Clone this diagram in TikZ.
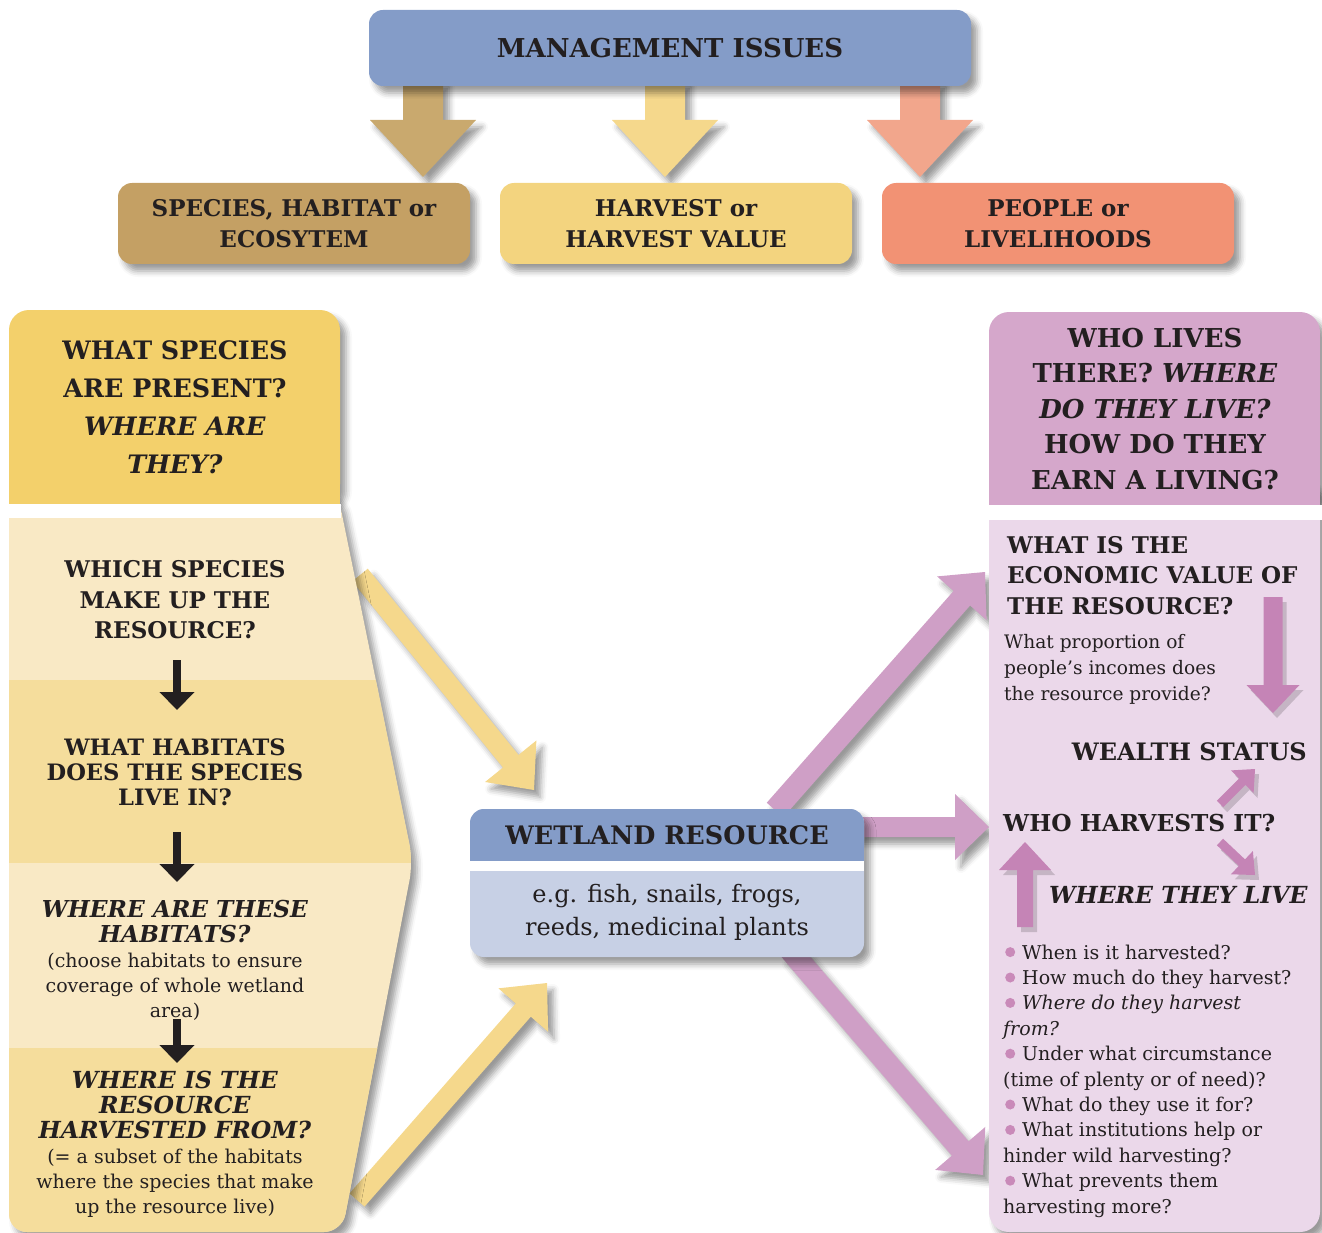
\documentclass[tikz,border=0pt]{standalone}
\usepackage{fontspec}
\setmainfont{DejaVu Serif}
\usetikzlibrary{calc,positioning,arrows.meta,shadows.blur}

\definecolor{ink}{HTML}{231F20}
\definecolor{mgblue}{HTML}{849CC8}
\definecolor{tanbox}{HTML}{C4A064}
\definecolor{tanarr}{HTML}{C9A96E}
\definecolor{yelbox}{HTML}{F3D47F}
\definecolor{yelarr}{HTML}{F5D88C}
\definecolor{salbox}{HTML}{F29274}
\definecolor{salarr}{HTML}{F2A68C}
\definecolor{lefttop}{HTML}{F3D06B}
\definecolor{bandlt}{HTML}{F9E9C5}
\definecolor{banddk}{HTML}{F5DD9C}
\definecolor{wetbody}{HTML}{C7D0E5}
\definecolor{pinktop}{HTML}{D5A7CB}
\definecolor{pinklt}{HTML}{EBD8EA}
\definecolor{pinkarr}{HTML}{CF9FC6}
\definecolor{pinkdk}{HTML}{C584B6}
\definecolor{bulpink}{HTML}{C98AB9}

\newcommand\hfs[2]{\fontsize{#1}{#2}\selectfont\bfseries}
\newcommand\rfs[2]{\fontsize{#1}{#2}\selectfont\mdseries}
\newcommand\bul{\hspace*{2pt}\raisebox{2pt}{\tikz\fill[bulpink] (0,0) circle (5pt);}\hspace{7pt}}

\newcommand\fatarrow[6]{%
  \path (#3) coordinate (fa-t) ($(#3)!#6!(#2)$) coordinate (fa-b);
  \fill[#1] ($(#2)!#4!90:(#3)$) -- ($(fa-b)!#4!90:(fa-t)$) -- ($(fa-b)!#5!90:(fa-t)$)
    -- (fa-t) -- ($(fa-b)!#5!-90:(fa-t)$) -- ($(fa-b)!#4!-90:(fa-t)$)
    -- ($(#2)!#4!-90:(#3)$) -- cycle;}

\begin{document}
\begin{tikzpicture}[x=1pt,y=-1pt,
  shd/.style={blur shadow={shadow xshift=6pt,shadow yshift=-7pt,shadow blur radius=6pt,shadow opacity=40}},
  flatshd/.style={fill=black,opacity=.16,transform canvas={shift={(4pt,-5pt)}}},
  issue/.style={rounded corners=14pt,minimum width=352pt,minimum height=81pt,inner sep=0pt,
    align=center,text=ink,font=\hfs{23}{31},shd},
  qtext/.style={align=center,text=ink,inner sep=0pt},
  ltext/.style={align=left,text=ink,inner sep=0pt,anchor=west},
  blk/.style={line width=8pt,ink,-{Triangle[width=34pt,length=18pt]}}]
\useasboundingbox (0,0) rectangle (1322,1233);

% management issues
\coordinate (m1) at (423,80); \coordinate (s1) at (423,177);
\coordinate (m2) at (665,80); \coordinate (s2) at (665,177);
\coordinate (m3) at (920,80); \coordinate (s3) at (920,177);
\fatarrow{fill=tanarr,shd}{m1}{s1}{20pt}{53pt}{57pt}
\fatarrow{fill=yelarr,shd}{m2}{s2}{20pt}{53pt}{57pt}
\fatarrow{fill=salarr,shd}{m3}{s3}{20pt}{53pt}{57pt}
\node[issue,fill=mgblue,minimum width=602pt,minimum height=76pt,font=\hfs{26}{30}] (mgmt) at (670,48) {MANAGEMENT ISSUES};
\node[issue,fill=tanbox] (spec) at (294,223.5) {SPECIES, HABITAT or\\ECOSYTEM};
\node[issue,fill=yelbox] (harv) at (676,223.5) {HARVEST or\\HARVEST VALUE};
\node[issue,fill=salbox] (peop) at (1058,223.5) {PEOPLE or\\LIVELIHOODS};

% species column
\coordinate (y1s) at (360,575); \coordinate (y1t) at (534,790);
\coordinate (y2s) at (357,1200); \coordinate (y2t) at (547,983);
\fatarrow{fill=yelarr,shd}{y1s}{y1t}{10pt}{33pt}{37pt}
\fatarrow{fill=yelarr,shd}{y2s}{y2t}{10pt}{33pt}{36pt}
\fill[bandlt,shd,rounded corners=18pt] (9,490) -- (337,490) -- (413,862) -- (342,1232) -- (9,1232) -- cycle;
\begin{scope}
\clip[rounded corners=18pt] (9,490) -- (337,490) -- (413,862) -- (342,1232) -- (9,1232) -- cycle;
\fill[banddk] (0,680) rectangle (420,863);
\fill[banddk] (0,1048) rectangle (420,1240);
\end{scope}
\fill[lefttop,shd,rounded corners=20pt] (9,310) rectangle (340,504);
\fill[white] (0,504) rectangle (341,518);
\fill[lefttop] (9,470) rectangle (340,504);

% wetland resource
\coordinate (p1s) at (775,810); \coordinate (p1t) at (985,572);
\coordinate (p2s) at (855,827); \coordinate (p2t) at (989,827);
\coordinate (p3s) at (790,950); \coordinate (p3t) at (983,1175);
\fatarrow{fill=pinkarr,shd}{p1s}{p1t}{11pt}{33pt}{35pt}
\fatarrow{fill=pinkarr,shd}{p2s}{p2t}{10pt}{33pt}{34pt}
\fatarrow{fill=pinkarr,shd}{p3s}{p3t}{11pt}{33pt}{35pt}
\fill[wetbody,shd,rounded corners=14pt] (470,809) rectangle (864,957);
\fill[mgblue,rounded corners=14pt] (470,809) rectangle (864,861);
\fill[mgblue] (470,835) rectangle (864,861);
\fill[white] (470,861) rectangle (864,871);
\node[qtext,font=\hfs{25.5}{30}] (wet) at (667,835) {WETLAND RESOURCE};
\node[qtext,font=\rfs{24}{33}] (eg) at (667,912) {e.g. fish, snails, frogs,\\reeds, medicinal plants};

% people column
\fill[pinklt,shd,rounded corners=20pt] (989,480) rectangle (1320,1232);
\fill[pinktop,shd,rounded corners=20pt] (989,312) rectangle (1320,505);
\fill[white] (989,505) rectangle (1322,520);
\fill[pinktop] (989,470) rectangle (1320,505);
\coordinate (d1s) at (1273,597); \coordinate (d1t) at (1273,713);
\coordinate (u1s) at (1025,927); \coordinate (u1t) at (1025,842);
\coordinate (w1s) at (1220,804); \coordinate (w1t) at (1255,769);
\coordinate (w2s) at (1220,842); \coordinate (w2t) at (1255,875);
\fatarrow{flatshd}{d1s}{d1t}{9.5pt}{26.5pt}{28pt}
\fatarrow{flatshd}{u1s}{u1t}{8pt}{26pt}{28pt}
\fatarrow{flatshd}{w1s}{w1t}{4.5pt}{16pt}{18pt}
\fatarrow{flatshd}{w2s}{w2t}{4.5pt}{16pt}{18pt}
\fatarrow{fill=pinkdk}{d1s}{d1t}{9.5pt}{26.5pt}{28pt}
\fatarrow{fill=pinkdk}{u1s}{u1t}{8pt}{26pt}{28pt}
\fatarrow{fill=pinkdk}{w1s}{w1t}{4.5pt}{16pt}{18pt}
\fatarrow{fill=pinkdk}{w2s}{w2t}{4.5pt}{16pt}{18pt}

\node[qtext,font=\hfs{26}{35.5}] (who) at (1155,409) {WHO LIVES\\THERE? \textit{WHERE}\\\textit{DO THEY LIVE?}\\HOW DO THEY\\EARN A LIVING?};
\node[ltext,font=\hfs{23}{30.5}] (econ) at (1007,575.5) {WHAT IS THE\\ECONOMIC VALUE OF\\THE RESOURCE?};
\node[ltext,font=\rfs{18.6}{26}] (prop) at (1004,669) {What proportion of\\people’s incomes does\\the resource provide?};
\node[qtext,anchor=east,font=\hfs{24}{28}] (wealth) at (1307,752) {WEALTH STATUS};
\node[ltext,font=\hfs{23.3}{28}] (whoh) at (1003,823) {WHO HARVESTS IT?};
\node[qtext,anchor=east,font=\hfs{23.5}{28}] (live) at (1308,895) {\textit{WHERE THEY LIVE}};
\node[ltext,font=\rfs{19}{25.4}] (list) at (1003,1081) {\bul When is it harvested?\\
  \bul How much do they harvest?\\
  \bul \textit{Where do they harvest}\\
  \textit{from?}\\
  \bul Under what circumstance\\
  (time of plenty or of need)?\\
  \bul What do they use it for?\\
  \bul What institutions help or\\
  hinder wild harvesting?\\
  \bul What prevents them\\
  harvesting more?};

% species questions
\node[qtext,font=\hfs{25.4}{38}] (q1) at (175,407) {WHAT SPECIES\\ARE PRESENT?\\\textit{WHERE ARE}\\\textit{THEY?}};
\node[qtext,font=\hfs{23}{30.5}] (q2) at (175,600) {WHICH SPECIES\\MAKE UP THE\\RESOURCE?};
\node[qtext,font=\hfs{22.6}{25}] (q3) at (175,772) {WHAT HABITATS\\DOES THE SPECIES\\LIVE IN?};
\node[qtext,font=\hfs{23.3}{25}] (q4) at (175,960) {\textit{WHERE ARE THESE}\\\textit{HABITATS?}\\
  {\rfs{19}{25}(choose habitats to ensure}\\{\rfs{19}{25}coverage of whole wetland}\\{\rfs{19}{25}area)}};
\node[qtext,font=\hfs{23.5}{25}] (q5) at (175,1144) {\textit{WHERE IS THE}\\\textit{RESOURCE}\\\textit{HARVESTED FROM?}\\
  {\rfs{19}{25}(= a subset of the habitats}\\{\rfs{19}{25}where the species that make}\\{\rfs{19}{25}up the resource live)}};
\coordinate (k1) at (177,660); \coordinate (k2) at (177,832); \coordinate (k3) at (177,1019);
\draw[blk] (k1) -- ++(0,50);
\draw[blk] (k2) -- ++(0,50);
\draw[blk] (k3) -- ++(0,44);
\end{tikzpicture}
\end{document}
